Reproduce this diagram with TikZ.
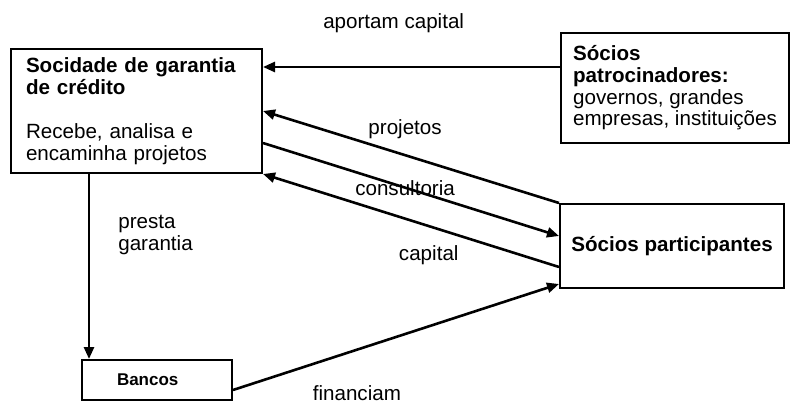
\documentclass[tikz,border=0pt]{standalone}
\usepackage{fontspec}
\setmainfont{Liberation Sans}
\usetikzlibrary{arrows.meta,positioning,calc}

\begin{document}
\begin{tikzpicture}[x=1pt, y=1pt,
      sgcbox/.style={rectangle, draw, line width=2pt, minimum width=251pt,
        minimum height=124pt, text width=221pt, inner xsep=15pt,
        inner ysep=0pt, align=left, font=\fontsize{20.6}{22}\selectfont},
      patrobox/.style={rectangle, draw, line width=2pt, minimum width=228pt,
        minimum height=110pt, inner xsep=11pt,
        inner ysep=0pt, align=left, font=\fontsize{20.6}{21.6}\selectfont},
      partbox/.style={rectangle, draw, line width=2pt, minimum width=224pt,
        minimum height=84pt, inner sep=0pt, align=center,
        font=\fontsize{20.6}{22}\selectfont\bfseries},
      bancobox/.style={rectangle, draw, line width=2pt, minimum width=150pt,
        minimum height=40pt, text width=80pt, inner xsep=35pt,
        inner ysep=0pt, align=left, font=\fontsize{17}{19}\selectfont\bfseries},
      arr/.style={-{Triangle[length=12pt, width=10pt]}, line width=2.6pt},
      elbl/.style={font=\fontsize{20.6}{22}\selectfont, inner sep=0pt, align=left},
    ]
    \useasboundingbox (0,0) rectangle (791,405);

    % ---- boxes ----
    \node[sgcbox] (sgc) at (136.5,294)
      {\textbf{Socidade de garantia}\\ \textbf{de crédito}\\[22pt]
       Recebe, analisa e\\ encaminha projetos};
    \node[patrobox] (patro) at (675,317)
      {\textbf{Sócios}\\ \textbf{patrocinadores:}\\ governos, grandes\\
       empresas, instituições};
    \node[partbox] (part) at (672,159) {Sócios participantes};
    \node[bancobox] (bancos) at (157,25) {Bancos};

    % ---- connectors ----
    \draw[arr] ([yshift=21pt]patro.west) --
      node[elbl, pos=0.56, yshift=44pt]{aportam capital}
      ([yshift=21pt]patro.west -| sgc.east);
    \draw[arr] (part.north west) --
      node[elbl, pos=0.52, yshift=26pt]{projetos} (sgc.east);
    \draw[arr] ([yshift=-32pt]sgc.east) --
      node[elbl, pos=0.48]{consultoria} ([yshift=10pt]part.west);
    \draw[arr] ([yshift=-21pt]part.west) --
      node[elbl, pos=0.44, yshift=-29pt]{capital} (sgc.south east);
    \draw[arr] ([xshift=79pt]sgc.south west) --
      node[elbl, pos=0.33, right=28pt]{presta\\ garantia}
      ([xshift=79pt]sgc.south west |- bancos.north);
    \draw[arr] ([yshift=-10pt]bancos.east) --
      node[elbl, pos=0.38, yshift=-43pt]{financiam} ([yshift=5pt]part.south west);
  \end{tikzpicture}
\end{document}
